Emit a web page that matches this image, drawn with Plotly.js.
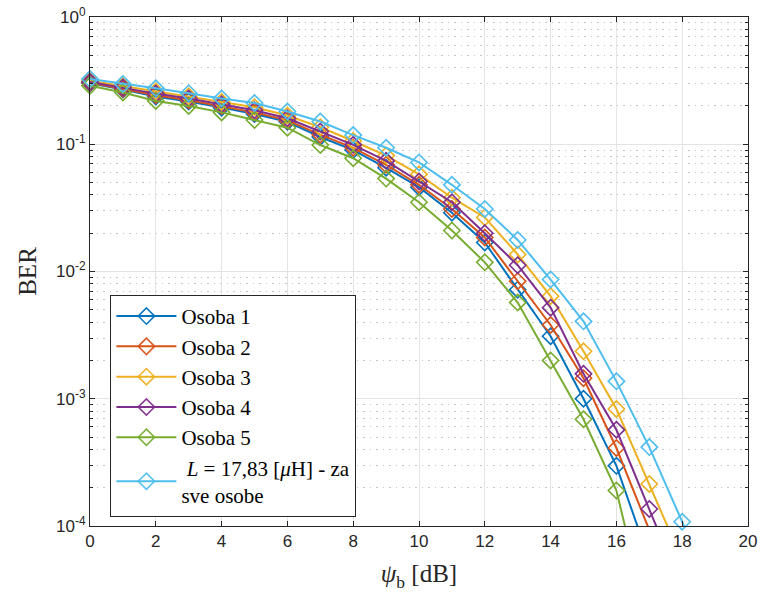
<!DOCTYPE html>
<html>
<head>
<meta charset="utf-8">
<script src="https://cdn.plot.ly/plotly-3.0.1.min.js"></script>
<style>html,body{margin:0;padding:0;background:#fff;}#chart{width:761px;height:604px;}</style>
</head>
<body>
<div id="chart"></div>
<script>
// psi_b [dB]
var snr = [0,1,2,3,4,5,6,7,8,9,10,11,12,13,14,15,16,17,18,19];

var osoba1 = [0.301,0.269,0.237,0.217,0.194,0.173,0.150,0.114,0.090,0.0653,0.046,0.029,0.0169,0.0072,0.0031,0.0010,0.000297,0.000054];
var osoba2 = [0.304,0.273,0.243,0.222,0.200,0.178,0.154,0.119,0.0938,0.069,0.048,0.031,0.0185,0.0084,0.0038,0.00145,0.00041,0.000093];
var osoba3 = [0.315,0.286,0.260,0.238,0.215,0.195,0.168,0.136,0.106,0.0815,0.058,0.038,0.0266,0.0136,0.0064,0.00236,0.00083,0.000214,0.000054];
var osoba4 = [0.309,0.279,0.250,0.229,0.206,0.185,0.160,0.126,0.099,0.0741,0.051,0.035,0.020,0.0112,0.0052,0.00157,0.00057,0.000136,0.000032];
var osoba5 = [0.288,0.255,0.219,0.200,0.178,0.155,0.135,0.0986,0.0776,0.0537,0.035,0.021,0.0118,0.0057,0.0020,0.00069,0.00019,0.000016];
var sveOsobe = [0.325,0.297,0.275,0.252,0.229,0.211,0.181,0.151,0.118,0.0938,0.072,0.048,0.031,0.0177,0.00865,0.00406,0.00137,0.000417,0.000108,0.000025];

var seriesNames = ['Osoba 1','Osoba 2','Osoba 3','Osoba 4','Osoba 5',
  ' <i>L</i> = 17,83 [<i>μ</i>H] - za<br>sve osobe'];
var seriesColors = ['#0072BD','#D95319','#EDB120','#7E2F8E','#77AC30','#4DBEEE'];

var yTickVals = [1e-4,1e-3,1e-2,1e-1,1];
var yTickText = ['10<sup>-4</sup>','10<sup>-3</sup>','10<sup>-2</sup>','10<sup>-1</sup>','10<sup>0</sup>'];
var xTickVals = [0,2,4,6,8,10,12,14,16,18,20];

var allSeries = [osoba1,osoba2,osoba3,osoba4,osoba5,sveOsobe];
var yMin = 1e-4;

var traces = allSeries.map(function(vals,i){
  return {
    x: snr.slice(0, vals.length),
    y: vals,
    type: 'scatter',
    mode: 'lines+markers',
    name: seriesNames[i],
    cliponaxis: false,
    line: {color: seriesColors[i], width: 2},
    marker: {
      symbol: 'diamond-open',
      size: 12.5,
      color: seriesColors[i],
      line: {width: 1.6, color: seriesColors[i]},
      opacity: vals.map(function(v){ return v < yMin ? 0 : 1; })
    }
  };
});

var axisFont = {family: '"Liberation Sans", Arial, sans-serif', size: 17, color: '#262626'};
var serif = '"Liberation Serif", "Times New Roman", serif';

var layout = {
  width: 761, height: 604,
  margin: {l: 90, r: 13, t: 17, b: 78},
  paper_bgcolor: '#fff', plot_bgcolor: '#fff',
  showlegend: true,
  legend: {
    x: 0.031, y: 0.454, xanchor: 'left', yanchor: 'top',
    bgcolor: '#fff', bordercolor: '#262626', borderwidth: 1,
    font: {family: serif, size: 21, color: '#000'},
    itemwidth: 60, tracegroupgap: 0
  },
  xaxis: {
    range: [0, 20], tickmode: 'array', tickvals: xTickVals,
    ticks: 'inside', ticklen: 5, tickcolor: '#262626',
    showline: true, linecolor: '#262626', linewidth: 1, mirror: 'ticks',
    showgrid: true, gridcolor: '#e3e3e3', gridwidth: 1, zeroline: false,
    tickfont: axisFont,
    title: {text: '<i>ψ</i><sub>b</sub> [dB]', font: {family: serif, size: 25, color: '#262626'}, standoff: 14}
  },
  yaxis: {
    type: 'log', range: [-4, 0], tickmode: 'array', tickvals: yTickVals, ticktext: yTickText,
    ticks: 'inside', ticklen: 5, tickcolor: '#262626',
    showline: true, linecolor: '#262626', linewidth: 1, mirror: 'ticks',
    showgrid: true, gridcolor: '#e3e3e3', gridwidth: 1, zeroline: false,
    minor: {dtick: 'D1', ticks: 'inside', ticklen: 3, tickcolor: '#262626', showgrid: true, griddash: '1.5px,5px', gridcolor: '#c4c4c4', gridwidth: 1},
    tickfont: axisFont,
    title: {text: 'BER', font: {family: serif, size: 25, color: '#262626'}, standoff: 12}
  }
};

Plotly.newPlot('chart', traces, layout, {displayModeBar: false, staticPlot: true});
</script>
</body>
</html>
